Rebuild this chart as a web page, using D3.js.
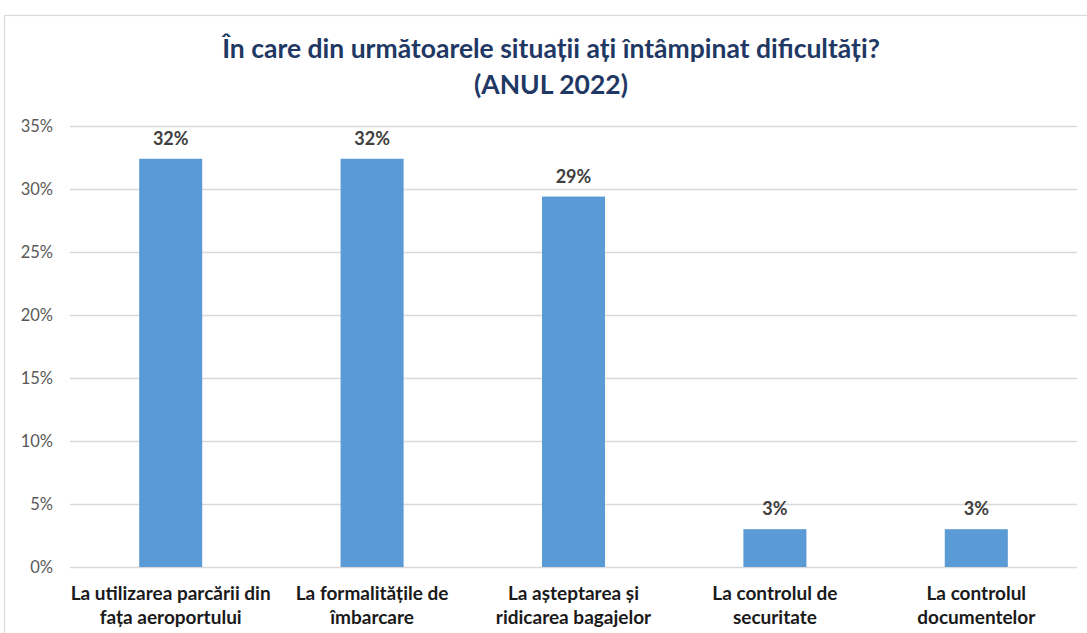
<!DOCTYPE html>
<html>
<head>
<meta charset="utf-8">
<script src="https://cdn.jsdelivr.net/npm/d3@7"></script>
<style>
  html, body { margin: 0; padding: 0; background: #ffffff; }
  svg { display: block; font-family: "Lato", "Noto Sans", sans-serif; }
</style>
</head>
<body>
<svg id="chart" width="1087" height="633"></svg>
<script>
// Survey answers, share of respondents
const categories = [
  "La utilizarea parcării din\nfața aeroportului",
  "La formalitățile de\nîmbarcare",
  "La așteptarea și\nridicarea bagajelor",
  "La controlul de\nsecuritate",
  "La controlul\ndocumentelor"
];
const values = [0.324, 0.324, 0.294, 0.03, 0.03];
const yTicks = [0, 0.05, 0.10, 0.15, 0.20, 0.25, 0.30, 0.35];
const titleLines = [
  "În care din următoarele situații ați întâmpinat dificultăți?",
  "(ANUL 2022)"
];

const svg = d3.select("#chart");
const W = 1087, H = 633;
const plot = { left: 70, right: 1077, top: 126, bottom: 567 };

// Chart frame
svg.append("rect")
  .attr("x", 4.5).attr("y", 15.5)
  .attr("width", W + 10).attr("height", H + 10)
  .attr("fill", "#ffffff")
  .attr("stroke", "#d9d9d9").attr("stroke-width", 1.2);

// Title
const title = svg.append("text")
  .attr("text-anchor", "middle")
  .attr("fill", "#1f3864")
  .attr("font-weight", "bold")
  .attr("font-size", 26.5);
titleLines.forEach((t, i) => {
  title.append("tspan")
    .attr("x", 551)
    .attr("y", 58 + i * 35.5)
    .text(t);
});

const x = d3.scaleBand()
  .domain(categories)
  .range([plot.left, plot.right])
  .padding(0);

const y = d3.scaleLinear()
  .domain([0, 0.35])
  .range([plot.bottom, plot.top]);

// Gridlines + y axis labels
const yAxis = d3.axisLeft(y)
  .tickValues(yTicks)
  .tickFormat(d3.format(".0%"))
  .tickSize(-(plot.right - plot.left))
  .tickPadding(17);

const gy = svg.append("g")
  .attr("transform", `translate(${plot.left},0)`)
  .call(yAxis);
gy.select(".domain").remove();
gy.selectAll(".tick line")
  .attr("stroke", "#d9d9d9")
  .attr("stroke-width", 1.3);
gy.selectAll(".tick text")
  .attr("fill", "#595959")
  .attr("font-family", "Lato, sans-serif")
  .attr("font-size", 16.5)
  .attr("dy", "0.36em");

// Bars
const barW = x.bandwidth() * 0.313;
svg.append("g")
  .selectAll("rect")
  .data(values)
  .join("rect")
  .attr("x", (d, i) => x(categories[i]) + (x.bandwidth() - barW) / 2)
  .attr("y", d => y(d))
  .attr("width", barW)
  .attr("height", d => y(0) - y(d))
  .attr("fill", "#5b9bd5");

// Value labels
svg.append("g")
  .selectAll("text")
  .data(values)
  .join("text")
  .attr("x", (d, i) => x(categories[i]) + x.bandwidth() / 2)
  .attr("y", d => y(d) - 14)
  .attr("text-anchor", "middle")
  .attr("font-weight", "bold")
  .attr("font-size", 18)
  .attr("fill", "#404040")
  .text(d => d3.format(".0%")(d));

// Category labels (two lines each)
const cat = svg.append("g")
  .selectAll("text")
  .data(categories)
  .join("text")
  .attr("text-anchor", "middle")
  .attr("font-weight", "bold")
  .attr("font-size", 19)
  .attr("fill", "#1a1a1a");
cat.each(function (d) {
  const cx = x(d) + x.bandwidth() / 2;
  d.split("\n").forEach((line, i) => {
    d3.select(this).append("tspan")
      .attr("x", cx)
      .attr("y", 600 + i * 24)
      .text(line);
  });
});
</script>
</body>
</html>
